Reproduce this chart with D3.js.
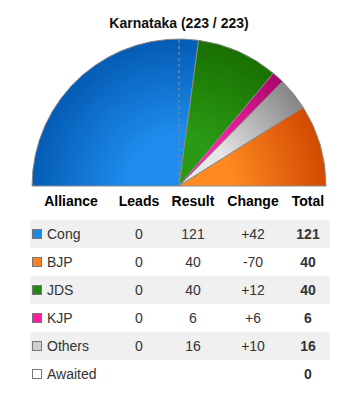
<!DOCTYPE html>
<html><head><meta charset="utf-8">
<script src="https://cdn.jsdelivr.net/npm/d3@7"></script>
<style>body{margin:0;background:#fff;}svg{display:block;font-family:"Liberation Sans",Arial,sans-serif;}</style>
</head><body><div id="c"></div>
<script>
const title = "Karnataka (223 / 223)";
const parties = ["Cong","BJP","JDS","KJP","Others"];
const leads = [0,0,0,0,0];
const results = [121,40,40,6,16];
const changes = ["+42","-70","+12","+6","+10"];
const totals = [121,40,40,6,16];
const pieOrder = ["Cong","JDS","KJP","Others","BJP"];
const lightColors = {Cong:"#1e8ced",BJP:"#ff8a22",JDS:"#2a9a14",KJP:"#ff22aa",Others:"#e6e6e6"};
const darkColors = {Cong:"#045cb4",BJP:"#d24a00",JDS:"#187000",KJP:"#a8086a",Others:"#858585"};
const swatch = {Cong:"#1e88e5",BJP:"#ff8020",JDS:"#1f8a0f",KJP:"#ff1aa0",Others:"#d0d0d0",Awaited:"#ffffff"};
const headers = ["Alliance","Leads","Result","Change","Total"];
const awaitedTotal = 0;

const W=358,H=398;
const svg=d3.select("#c").append("svg").attr("width",W).attr("height",H);
svg.append("text").attr("x",179).attr("y",28).attr("text-anchor","middle")
  .attr("font-weight","bold").attr("font-size",14).attr("fill","#111").text(title);

const cx=179, cy=186, R=147;
const defs=svg.append("defs");
pieOrder.forEach(p=>{
  const g=defs.append("radialGradient").attr("id","g_"+p).attr("gradientUnits","userSpaceOnUse")
    .attr("cx",0).attr("cy",0).attr("r",R).attr("fx",0).attr("fy",0);
  g.append("stop").attr("offset","0").attr("stop-color",lightColors[p]);
  g.append("stop").attr("offset","0.35").attr("stop-color",lightColors[p]);
  g.append("stop").attr("offset","1").attr("stop-color",darkColors[p]);
});
const pieData=pieOrder.map(p=>({name:p,value:totals[parties.indexOf(p)]}));
const pie=d3.pie().sort(null).value(d=>d.value).startAngle(-Math.PI/2).endAngle(Math.PI/2);
const arc=d3.arc().innerRadius(0).outerRadius(R);
const gp=svg.append("g").attr("transform",`translate(${cx},${cy})`);
gp.selectAll("path").data(pie(pieData)).join("path")
  .attr("d",arc).attr("fill",d=>`url(#g_${d.data.name})`)
  .attr("stroke","#8a8a8a").attr("stroke-width",1);
gp.append("line").attr("x1",0).attr("y1",-R+1).attr("x2",0).attr("y2",0)
  .attr("stroke","#6a86a8").attr("stroke-width",1.5).attr("stroke-dasharray","3,3");

// table
const colX=[71,139,193,253,308];
const headY=206;
headers.forEach((h,i)=>svg.append("text").attr("x",colX[i]).attr("y",headY).attr("text-anchor","middle")
  .attr("font-weight","bold").attr("font-size",14).attr("fill","#000").text(h));
const rowTop=220,rowH=28;
const rows=parties.map((p,i)=>({name:p,leads:leads[i],result:results[i],change:changes[i],total:totals[i]}));
rows.push({name:"Awaited",leads:"",result:"",change:"",total:awaitedTotal});
rows.forEach((r,i)=>{
  const y=rowTop+i*rowH;
  if(i%2===0) svg.append("rect").attr("x",30).attr("y",y).attr("width",300).attr("height",rowH).attr("fill","#f0f0f0");
  const ty=y+19;
  svg.append("rect").attr("x",32.5).attr("y",y+9.5).attr("width",9).attr("height",9)
    .attr("fill",swatch[r.name]).attr("stroke","#777").attr("stroke-width",1);
  svg.append("text").attr("x",47).attr("y",ty).attr("font-size",14).attr("fill","#333").text(r.name);
  [r.leads,r.result,r.change].forEach((v,k)=>svg.append("text").attr("x",colX[k+1]).attr("y",ty)
    .attr("text-anchor","middle").attr("font-size",14).attr("fill","#333").text(v));
  svg.append("text").attr("x",colX[4]).attr("y",ty).attr("text-anchor","middle")
    .attr("font-size",14).attr("font-weight","bold").attr("fill","#333").text(r.total);
});
</script></body></html>
